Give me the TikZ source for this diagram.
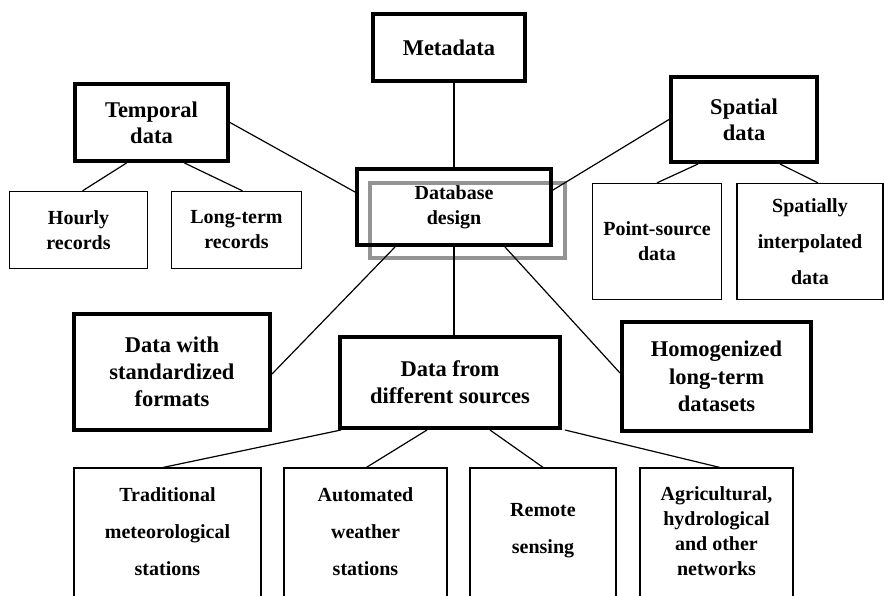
\documentclass[tikz,border=0pt]{standalone}
\usepackage{fontspec}
\setmainfont{Liberation Serif}
\usetikzlibrary{calc}
\tikzset{
  thickbox/.style={draw, line width=4pt, inner sep=0pt, align=center, font=\bfseries\fontsize{22.5}{26}\selectfont},
  thinbox/.style={draw, line width=1.3pt, inner sep=0pt, align=center, font=\bfseries\fontsize{20}{25}\selectfont},
  shadowbox/.style={draw=black!42, line width=4pt, inner sep=0pt},
  plaintext/.style={inner sep=0pt, align=center, font=\bfseries\fontsize{20}{37}\selectfont},
  conn/.style={line width=1.2pt}
}
\begin{document}
\begin{tikzpicture}[x=1pt,y=-1pt]
\useasboundingbox (0,0) rectangle (884,595);
\clip (0,0) rectangle (884,595);
\fill[white] (0,0) rectangle (884,595);
% central
\node[shadowbox, minimum width=195pt, minimum height=75pt] (dbshadow) at (467.5,220.5) {};
\node[thickbox, minimum width=194pt, minimum height=76pt, font=\bfseries\fontsize{20}{25}\selectfont] (db) at (454,207) {Database\\design};
% top
\node[thickbox, minimum width=152pt, minimum height=67pt] (meta) at (449,47.5) {Metadata};
\node[thickbox, minimum width=153pt, minimum height=77pt] (temp) at (151.5,122.5) {Temporal\\data};
\node[thinbox, minimum width=138pt, minimum height=77pt] (hourly) at (78.5,230) {Hourly\\records};
\node[thinbox, minimum width=130pt, minimum height=77pt] (lt) at (236.5,230) {Long-term\\records};
\node[thickbox, minimum width=146pt, minimum height=85pt, font=\bfseries\fontsize{22.5}{26}\selectfont] (spat) at (744,119.5) {Spatial\\data};
\node[thinbox, minimum width=129pt, minimum height=116pt] (point) at (657,241.5) {Point-source\\data};
\node[thinbox, minimum width=146pt, minimum height=116pt, font=\bfseries\fontsize{20}{36}\selectfont] (interp) at (810,241.5) {Spatially\\interpolated\\data};
% middle
\node[thickbox, minimum width=196pt, minimum height=116pt, font=\bfseries\fontsize{22.5}{27}\selectfont] (std) at (172,372) {Data with\\standardized\\formats};
\node[thickbox, minimum width=220pt, minimum height=91pt, font=\bfseries\fontsize{22.5}{27}\selectfont] (src) at (450,382.5) {Data from\\different sources};
\node[thickbox, minimum width=189pt, minimum height=109pt, font=\bfseries\fontsize{22.5}{27.5}\selectfont] (hom) at (716.5,376.5) {Homogenized\\long-term\\datasets};
% bottom boxes (open at the bottom edge)
\node[thinbox, minimum width=187pt, minimum height=172pt] (trad) at (167.5,554) {};
\node[thinbox, minimum width=163pt, minimum height=172pt] (auto) at (365.5,554) {};
\node[thinbox, minimum width=146pt, minimum height=172pt] (remote) at (543,554) {};
\node[thinbox, minimum width=153pt, minimum height=172pt] (agri) at (716.5,554) {};
\node[plaintext] (tradt) at (167.5,532) {Traditional\\meteorological\\stations};
\node[plaintext] (autot) at (365.5,532) {Automated\\weather\\stations};
\node[plaintext] (remotet) at (543,531) {Remote\\sensing};
\node[plaintext, font=\bfseries\fontsize{20}{25}\selectfont] (agrit) at (716.5,531) {Agricultural,\\hydrological\\and other\\networks};
% connectors
\draw[conn] (db.north) -- (db.north |- meta.south);
\draw[conn] (temp.east) -- ([yshift=15pt]db.west);
\draw[conn] (spat.west) -- ([yshift=17pt]db.east);
\draw[conn] ([xshift=-25pt]temp.south) -- ([xshift=4pt]hourly.north);
\draw[conn] ([xshift=33pt]temp.south) -- ([xshift=6pt]lt.north);
\draw[conn] ([xshift=-46pt]spat.south) -- (point.north);
\draw[conn] ([xshift=36pt]spat.south) -- ([xshift=8pt]interp.north);
\draw[conn] ([xshift=-59pt]db.south) -- ([yshift=-2pt]std.east);
\draw[conn] (db.south) -- (db.south |- src.north);
\draw[conn] ([xshift=51pt]db.south) -- ([yshift=3.5pt]hom.west);
\draw[conn] ([xshift=3pt]src.south west) -- ([xshift=-4pt]trad.north);
\draw[conn] ([xshift=-23pt]src.south) -- ([xshift=1pt]auto.north);
\draw[conn] ([xshift=40pt]src.south) -- (remote.north);
\draw[conn] ([xshift=3pt]src.south east) -- ([xshift=3pt]agri.north);
\end{tikzpicture}
\end{document}
